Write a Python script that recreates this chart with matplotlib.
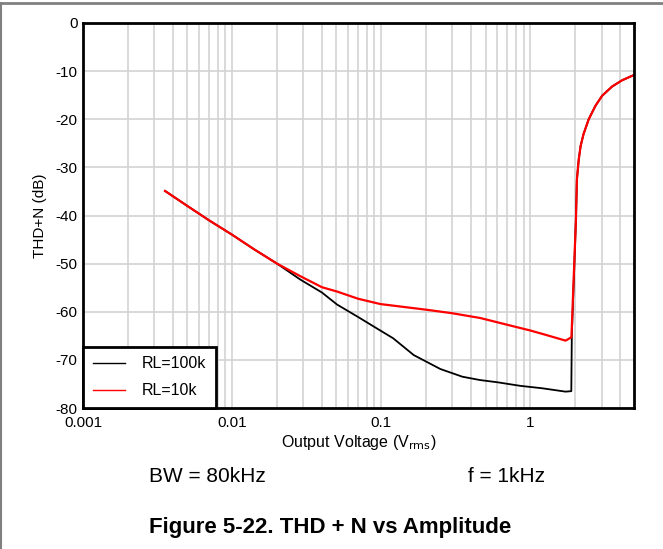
import matplotlib
matplotlib.use('Agg')
from matplotlib import pyplot as plt
from matplotlib.lines import Line2D
from matplotlib.ticker import FixedLocator, NullFormatter

plt.rcParams['font.family'] = ['Liberation Sans', 'DejaVu Sans']
plt.rcParams['axes.unicode_minus'] = False

# data (x in Vrms, y in dB)
# both curves share the clipping branch above ~2 Vrms
x_clip = [2.02, 2.05, 2.11, 2.17, 2.27, 2.46, 2.73, 3.03, 3.53, 4.12, 4.95]
y_clip = [-40.8, -32.5, -28.3, -25.6, -23.1, -20.0, -17.2, -15.1, -13.2, -11.9, -10.8]

x_100k = [0.00355, 0.005, 0.007, 0.01, 0.014, 0.02, 0.0286, 0.04, 0.0505, 0.07,
          0.0985, 0.12, 0.165, 0.249, 0.35, 0.461, 0.6, 0.857, 1.2, 1.72,
          1.88, 1.895] + x_clip
y_100k = [-34.9, -38.0, -41.0, -44.0, -47.0, -50.0, -53.3, -56.0, -58.5, -61.1,
          -63.9, -65.5, -69.0, -71.9, -73.5, -74.2, -74.65, -75.4, -75.9, -76.6,
          -76.5, -65.0] + y_clip

x_10k = [0.00355, 0.005, 0.007, 0.01, 0.014, 0.02, 0.0286, 0.04, 0.0505, 0.07,
         0.0985, 0.203, 0.298, 0.461, 0.698, 1.0, 1.3, 1.72, 1.884] + x_clip
y_10k = [-34.9, -38.0, -41.0, -44.0, -47.0, -50.0, -52.6, -54.9, -55.8, -57.3,
         -58.4, -59.6, -60.3, -61.3, -62.7, -63.9, -64.9, -66.0, -65.3] + y_clip

xticks = [0.001, 0.01, 0.1, 1]
xticklabels = ['0.001', '0.01', '0.1', '1']
yticks = [0, -10, -20, -30, -40, -50, -60, -70, -80]

fig = plt.figure(figsize=(6.63, 5.49), dpi=100)
ax = fig.add_axes([83/663, 1-408/549, (634-83)/663, (408-23)/549])

ax.plot(x_100k, y_100k, color='black', lw=1.3, label='RL=100k')
ax.plot(x_10k, y_10k, color='red', lw=1.6, label='RL=10k')

ax.set_xscale('log')
ax.set_xlim(0.001, 4.95)
ax.set_ylim(-80, 0)
ax.xaxis.set_major_locator(FixedLocator(xticks))
ax.set_xticklabels(xticklabels)
minors = [m * 10.0**e for e in range(-3, 1) for m in range(2, 10) if m * 10.0**e < 4.95]
ax.xaxis.set_minor_locator(FixedLocator(minors))
ax.xaxis.set_minor_formatter(NullFormatter())
ax.set_yticks(yticks)
ax.set_yticklabels([str(v) for v in yticks])
ax.tick_params(which='both', length=0, labelsize=11)
ax.tick_params(axis='x', pad=6)
ax.tick_params(axis='y', pad=4)
ax.grid(True, which='both', axis='x', color='#d3d3d3', lw=1.2)
ax.grid(True, which='major', axis='y', color='#d3d3d3', lw=1.2)
ax.set_axisbelow(True)
for s in ax.spines.values():
    s.set_linewidth(2)

ax.set_xlabel('Output Voltage (V$_{\\mathrm{rms}}$)', fontsize=11.5, labelpad=2)
ax.set_ylabel('THD+N (dB)', fontsize=11, labelpad=6)

leg = ax.legend(loc='lower left', borderaxespad=0, fontsize=11.5, fancybox=False,
                framealpha=1, edgecolor='black', handlelength=2.05, handletextpad=1.05,
                borderpad=0.6, labelspacing=0.75)
leg.get_frame().set_linewidth(2)
for h in leg.legend_handles:
    h.set_linewidth(1)

fig.text(207/663, 1-476/549, 'BW = 80kHz', fontsize=15, ha='center', va='center')
fig.text(507/663, 1-476/549, 'f = 1kHz', fontsize=15, ha='center', va='center')
fig.text(330/663, 1-528/549, 'Figure 5-22. THD + N vs Amplitude', fontsize=16,
         fontweight='bold', ha='center', va='center')

# grey frame of the original page crop
fig.add_artist(Line2D([0, 1], [1-2.5/549, 1-2.5/549], color='#808080', lw=2))
fig.add_artist(Line2D([0.8/663, 0.8/663], [0, 1-2.5/549], color='#808080', lw=1.5))

fig.savefig('out.png', dpi=100)
